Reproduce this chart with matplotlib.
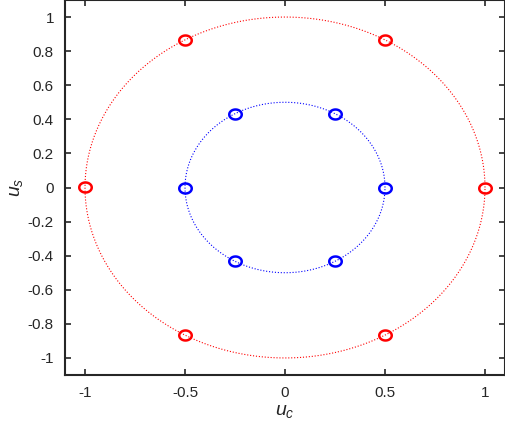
import numpy as np
import matplotlib

matplotlib.use("Agg")
import matplotlib.pyplot as plt
from matplotlib.path import Path

plt.rcParams["font.family"] = ["Liberation Sans", "DejaVu Sans"]
plt.rcParams["mathtext.fontset"] = "custom"
plt.rcParams["mathtext.rm"] = "Liberation Sans"
plt.rcParams["mathtext.it"] = "Liberation Sans:italic"

# circle radii and sampled points
radii = [1.0, 0.5]
colors = ["#ff0000", "#0000ff"]
point_angles_deg = [0, 60, 120, 180, 240, 300]
yticks = [-1, -0.8, -0.6, -0.4, -0.2, 0, 0.2, 0.4, 0.6, 0.8, 1]
ylabels = ["-1", "-0.8", "-0.6", "-0.4", "-0.2", "0", "0.2", "0.4", "0.6", "0.8", "1"]
xticks = [-1, -0.5, 0, 0.5, 1]
xlabels = ["-1", "-0.5", "0", "0.5", "1"]

# slightly squashed circle marker (stretched figure look)
th = np.linspace(0, 2 * np.pi, 40)
oval = Path(np.column_stack([np.cos(th), 0.8 * np.sin(th)]), closed=True)

fig = plt.figure(figsize=(5.06, 4.26), dpi=100)
ax = fig.add_axes([65 / 506, 51 / 426, 440 / 506, 375 / 426])

t = np.linspace(0, 2 * np.pi, 400)
ang = np.deg2rad(point_angles_deg)
for r, c in zip(radii, colors):
    ax.plot(r * np.cos(t), r * np.sin(t), ":", color=c, linewidth=0.8)
    ax.plot(r * np.cos(ang), r * np.sin(ang), marker=oval, mfc="none", mec=c,
            markersize=9, markeredgewidth=1.8, linestyle="none")

ax.set_xlim(-1.1, 1.1)
ax.set_ylim(-1.1, 1.1)
ax.set_xticks(xticks)
ax.set_xticklabels(xlabels)
ax.set_yticks(yticks)
ax.set_yticklabels(ylabels)
ax.tick_params(direction="in", length=4, width=1.2, labelsize=11, colors="#262626",
               top=True, right=True, pad=8)
for s in ax.spines.values():
    s.set_linewidth(1.5)
    s.set_color("#262626")
ax.set_xlabel(r"$u_c$", fontsize=14, color="#262626", labelpad=2)
ax.set_ylabel(r"$u_s$", fontsize=14, color="#262626", labelpad=2)

fig.savefig("out.png", dpi=100)
